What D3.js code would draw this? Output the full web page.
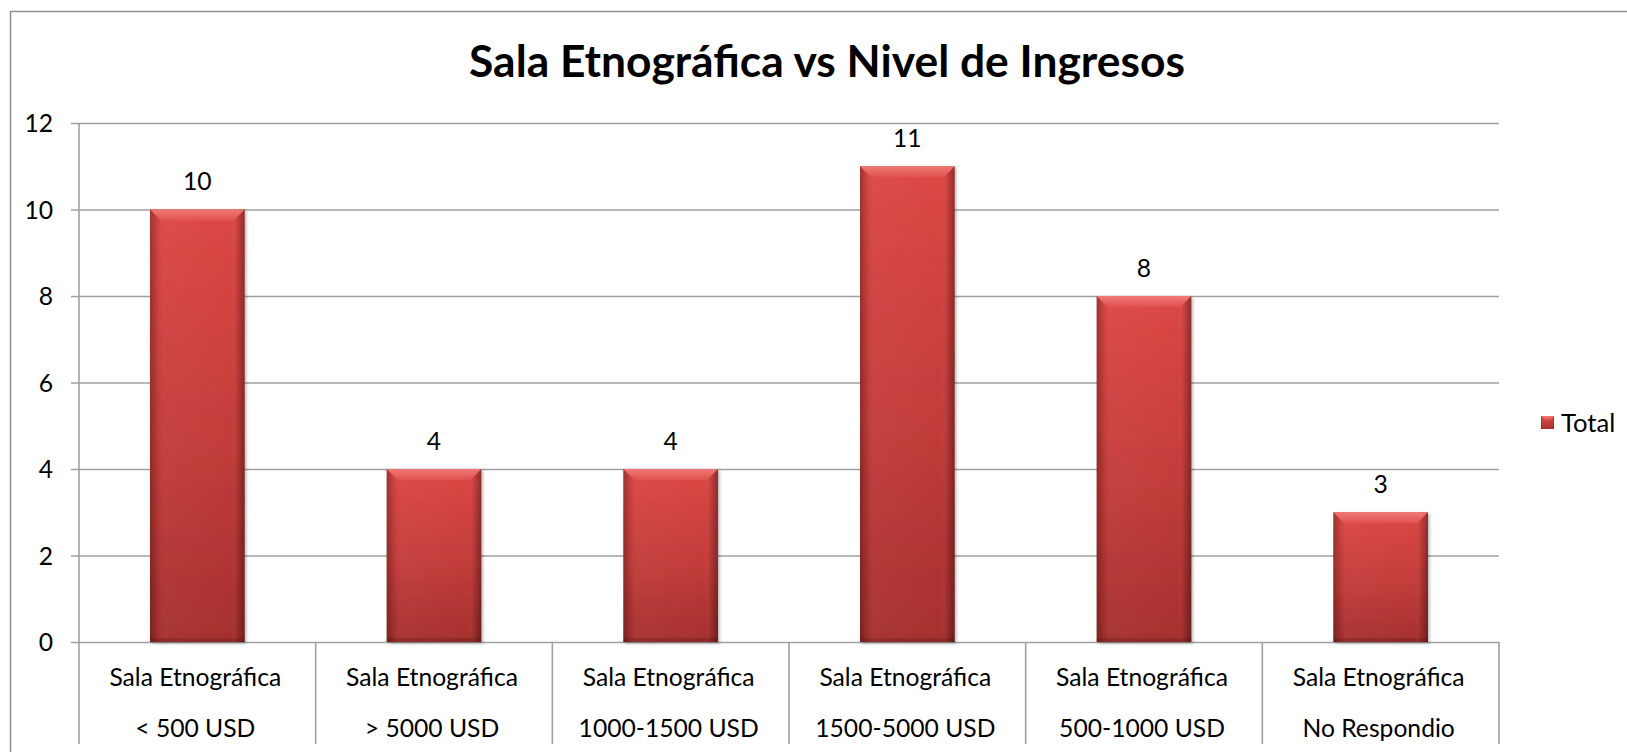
<!DOCTYPE html>
<html>
<head>
<meta charset="utf-8">
<script src="https://cdn.jsdelivr.net/npm/d3@7"></script>
<style>
  html, body { margin: 0; padding: 0; background: #fff; }
  svg { display: block; }
  text { font-family: Lato, "Open Sans", sans-serif; fill: #000; }
</style>
</head>
<body>
<svg id="chart" width="1627" height="752"></svg>
<script>
const chartTitle = "Sala Etnográfica vs Nivel de Ingresos";
const groupLabel = "Sala Etnográfica";
const incomeLevels = ["< 500 USD", "> 5000 USD", "1000-1500 USD", "1500-5000 USD", "500-1000 USD", "No Respondio"];
const totals = [10, 4, 4, 11, 8, 3];
const yTicks = [0, 2, 4, 6, 8, 10, 12];
const seriesName = "Total";

const W = 1627, H = 752;
const m = { left: 79, right: 1499, top: 123, bottom: 642, catBottom: 744 };

const svg = d3.select("#chart");
svg.append("rect").attr("width", W).attr("height", H).attr("fill", "#fff");

// defs
const defs = svg.append("defs");
const vg = defs.append("linearGradient").attr("id", "barV").attr("x1", 0).attr("y1", 0).attr("x2", 0).attr("y2", 1);
vg.append("stop").attr("offset", "0%").attr("stop-color", "#dc4745");
vg.append("stop").attr("offset", "55%").attr("stop-color", "#c23c3a");
vg.append("stop").attr("offset", "100%").attr("stop-color", "#a52f2e");
const hg = defs.append("linearGradient").attr("id", "barH").attr("x1", 0).attr("y1", 0).attr("x2", 1).attr("y2", 0);
hg.append("stop").attr("offset", "0%").attr("stop-color", "#000").attr("stop-opacity", 0.28);
hg.append("stop").attr("offset", "8%").attr("stop-color", "#000").attr("stop-opacity", 0.05);
hg.append("stop").attr("offset", "14%").attr("stop-color", "#fff").attr("stop-opacity", 0.03);
hg.append("stop").attr("offset", "86%").attr("stop-color", "#fff").attr("stop-opacity", 0.0);
hg.append("stop").attr("offset", "92%").attr("stop-color", "#000").attr("stop-opacity", 0.08);
hg.append("stop").attr("offset", "100%").attr("stop-color", "#000").attr("stop-opacity", 0.35);
const tg = defs.append("linearGradient").attr("id", "bevelTop").attr("x1", 0).attr("y1", 0).attr("x2", 0).attr("y2", 1);
tg.append("stop").attr("offset", "0%").attr("stop-color", "#f07a76");
tg.append("stop").attr("offset", "100%").attr("stop-color", "#e0514e");
const sh = defs.append("filter").attr("id", "shadow").attr("x", "-20%").attr("y", "-10%").attr("width", "140%").attr("height", "120%");
sh.append("feDropShadow").attr("dx", 1.5).attr("dy", 1.5).attr("stdDeviation", 1.5).attr("flood-color", "#000").attr("flood-opacity", 0.3);

// outer chart border
svg.append("rect").attr("x", 10.5).attr("y", 11.5).attr("width", 1700).attr("height", 800)
  .attr("fill", "none").attr("stroke", "#8f8f8f").attr("stroke-width", 1.5);

// helper: fit font size to a target width
function fitSize(text, weight, target) {
  const t = svg.append("text").attr("font-size", 100).attr("font-weight", weight).text(text);
  const w = t.node().getComputedTextLength();
  t.remove();
  return 100 * target / w;
}
const axisFont = fitSize(groupLabel, "normal", 172);
const titleFont = fitSize(chartTitle, "bold", 716);

// scales
const x = d3.scaleBand().domain(incomeLevels).range([m.left, m.right]).padding(0);
const y = d3.scaleLinear().domain([0, 12]).range([m.bottom, m.top]);

// gridlines + ticks
const yAxis = d3.axisLeft(y).tickValues(yTicks).tickSize(-(m.right - m.left)).tickPadding(0).tickFormat(d3.format("d"));
const gy = svg.append("g").attr("transform", `translate(${m.left},0)`).call(yAxis);
gy.select(".domain").remove();
gy.selectAll(".tick line").attr("x1", -8).attr("stroke", "#a0a0a0").attr("stroke-width", 1.6);
gy.selectAll(".tick text").attr("x", -26).attr("font-size", axisFont).attr("font-family", "Lato, sans-serif").attr("fill", "#000").attr("dy", "0.35em");

// y axis line
svg.append("line").attr("x1", m.left).attr("x2", m.left).attr("y1", m.top).attr("y2", m.catBottom)
  .attr("stroke", "#a0a0a0").attr("stroke-width", 1.6);

// category separators
const bounds = incomeLevels.map(c => x(c) + x.bandwidth());
svg.append("g").selectAll("line").data(bounds).join("line")
  .attr("x1", d => d).attr("x2", d => d).attr("y1", m.bottom).attr("y2", m.catBottom)
  .attr("stroke", "#a0a0a0").attr("stroke-width", 1.6);

// category labels
const cg = svg.append("g").selectAll("g").data(incomeLevels).join("g")
  .attr("transform", d => `translate(${x(d) + x.bandwidth() / 2 - 2},0)`);
cg.append("text").attr("y", 677).attr("dy", "0.35em").attr("text-anchor", "middle").attr("font-size", axisFont).text(groupLabel);
cg.append("text").attr("y", 728).attr("dy", "0.35em").attr("text-anchor", "middle").attr("font-size", axisFont).text(d => d);

// bars
const barW = x.bandwidth() * 0.4;
const bev = 11;
const bars = svg.append("g").selectAll("g").data(incomeLevels.map((c, i) => ({ c, v: totals[i] }))).join("g")
  .attr("transform", d => `translate(${x(d.c) + (x.bandwidth() - barW) / 2},0)`);
bars.append("rect").attr("x", 0).attr("y", d => y(d.v)).attr("width", barW).attr("height", d => y(0) - y(d.v))
  .attr("fill", "url(#barV)").attr("filter", "url(#shadow)");
bars.append("rect").attr("x", 0).attr("y", d => y(d.v)).attr("width", barW).attr("height", d => y(0) - y(d.v))
  .attr("fill", "url(#barH)");
bars.append("path").attr("d", d => {
  const t = y(d.v);
  return `M0,${t}L${barW},${t}L${barW - bev},${t + bev}L${bev},${t + bev}Z`;
}).attr("fill", "url(#bevelTop)");
bars.append("rect").attr("x", 0).attr("y", d => y(0) - 4).attr("width", barW).attr("height", 4)
  .attr("fill", "#000").attr("opacity", 0.12);

// value labels
bars.append("text").attr("x", barW / 2).attr("y", d => y(d.v) - 28).attr("dy", "0.35em")
  .attr("text-anchor", "middle").attr("font-size", axisFont).text(d => d.v);

// title
svg.append("text").attr("x", 827).attr("y", 61).attr("dy", "0.35em").attr("text-anchor", "middle")
  .attr("font-size", titleFont).attr("font-weight", "bold").text(chartTitle);

// legend
const lg = svg.append("g").attr("transform", "translate(1541,416)");
lg.append("rect").attr("width", 13).attr("height", 13).attr("fill", "url(#barV)");
lg.append("rect").attr("width", 13).attr("height", 13).attr("fill", "url(#barH)");
lg.append("path").attr("d", "M0,0L13,0L9,4L4,4Z").attr("fill", "url(#bevelTop)");
lg.append("text").attr("x", 20).attr("y", 7).attr("dy", "0.35em").attr("font-size", axisFont * 1.04).text(seriesName);
</script>
</body>
</html>
